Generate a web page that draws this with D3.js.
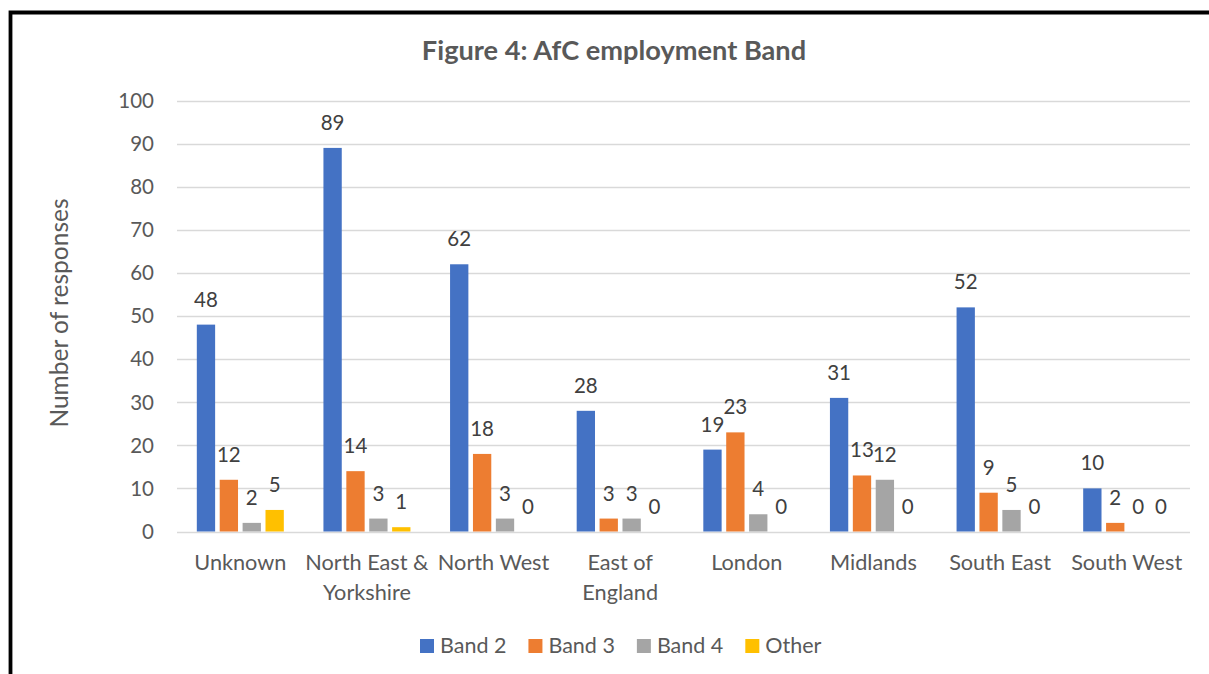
<!DOCTYPE html>
<html>
<head>
<meta charset="utf-8">
<script src="https://cdn.jsdelivr.net/npm/d3@7/dist/d3.min.js"></script>
<style>
  body { margin: 0; background: #fff; }
  svg { display: block; font-family: Lato, "Open Sans", sans-serif; }
</style>
</head>
<body>
<svg id="chart" width="1209" height="674"></svg>
<script>
// chart data
var categories = ["Unknown", "North East & Yorkshire", "North West", "East of England",
                  "London", "Midlands", "South East", "South West"];
var tickLines = [["Unknown"], ["North East &", "Yorkshire"], ["North West"], ["East of", "England"],
                 ["London"], ["Midlands"], ["South East"], ["South West"]];
var series = ["Band 2", "Band 3", "Band 4", "Other"];
var band2 = [48, 89, 62, 28, 19, 31, 52, 10];
var band3 = [12, 14, 18, 3, 23, 13, 9, 2];
var band4 = [2, 3, 3, 3, 4, 12, 5, 0];
var other = [5, 1, 0, 0, 0, 0, 0, 0];
var yTicks = [0, 10, 20, 30, 40, 50, 60, 70, 80, 90, 100];

var colors = ["#4472C4", "#ED7D31", "#A5A5A5", "#FFC000"];
var values = [band2, band3, band4, other];

var svg = d3.select("#chart");

// frame
svg.append("path")
    .attr("d", "M10.5,700 L10.5,12.5 L1230,12.5")
    .attr("fill", "none")
    .attr("stroke", "#000")
    .attr("stroke-width", 3.8);

var plotL = 177, plotR = 1190, plotT = 100.5, plotB = 531.5;

var x0 = d3.scaleBand().domain(categories).range([plotL, plotR]);
var groupW = 87;
var x1 = d3.scaleBand().domain(series)
    .range([(x0.bandwidth() - groupW) / 2, (x0.bandwidth() + groupW) / 2])
    .paddingInner(0.2);
var y = d3.scaleLinear().domain([0, 100]).range([plotB, plotT]);

// gridlines
svg.append("g").selectAll("line")
    .data(yTicks)
    .enter().append("line")
    .attr("x1", plotL).attr("x2", plotR)
    .attr("y1", function(d) { return Math.round(y(d)) + 0.5; })
    .attr("y2", function(d) { return Math.round(y(d)) + 0.5; })
    .attr("stroke", "#d9d9d9")
    .attr("stroke-width", 1.5);

// y tick labels
svg.append("g").selectAll("text")
    .data(yTicks)
    .enter().append("text")
    .attr("x", 154)
    .attr("y", function(d) { return y(d); })
    .attr("dy", "0.36em")
    .attr("text-anchor", "end")
    .attr("fill", "#595959")
    .style("font-size", "20.5px")
    .text(function(d) { return d; });

// bars
var rows = [];
series.forEach(function(s, i) {
    categories.forEach(function(c, j) {
        rows.push({ series: s, cat: c, value: values[i][j], color: colors[i] });
    });
});

var g = svg.append("g");
g.selectAll("rect")
    .data(rows)
    .enter().append("rect")
    .attr("x", function(d) { return x0(d.cat) + x1(d.series); })
    .attr("width", x1.bandwidth())
    .attr("y", function(d) { return y(d.value); })
    .attr("height", function(d) { return y(0) - y(d.value); })
    .attr("fill", function(d) { return d.color; });

g.selectAll("text")
    .data(rows)
    .enter().append("text")
    .attr("x", function(d) { return x0(d.cat) + x1(d.series) + x1.bandwidth() / 2; })
    .attr("y", function(d) { return y(d.value) - 18; })
    .attr("text-anchor", "middle")
    .attr("fill", "#404040")
    .style("font-size", "20.5px")
    .text(function(d) { return d.value; });

// category labels
var cat = svg.append("g").selectAll("text")
    .data(categories)
    .enter().append("text")
    .attr("text-anchor", "middle")
    .attr("fill", "#595959")
    .style("font-size", "21.7px");
cat.each(function(d, i) {
    var t = d3.select(this);
    tickLines[i].forEach(function(line, k) {
        t.append("tspan")
            .attr("x", x0(d) + x0.bandwidth() / 2)
            .attr("y", 570 + k * 29.5)
            .text(line);
    });
});

// axis title
svg.append("text")
    .attr("transform", "translate(68,313) rotate(-90)")
    .attr("text-anchor", "middle")
    .attr("fill", "#595959")
    .style("font-size", "24.5px")
    .text("Number of responses");

// chart title
svg.append("text")
    .attr("x", 614)
    .attr("y", 60)
    .attr("text-anchor", "middle")
    .attr("fill", "#595959")
    .style("font-size", "27.2px")
    .style("font-weight", "bold")
    .text("Figure 4: AfC employment Band");

// legend
var legend = svg.append("g").attr("transform", "translate(420,639)");
var lx = 0;
series.forEach(function(s, i) {
    var item = legend.append("g").attr("transform", "translate(" + lx + ",0)");
    item.append("rect").attr("width", 14).attr("height", 14).attr("fill", colors[i]);
    var t = item.append("text")
        .attr("x", 20).attr("y", 14)
        .attr("fill", "#595959")
        .style("font-size", "21.5px")
        .text(s);
    lx += 20 + t.node().getComputedTextLength() + 22;
});
</script>
</body>
</html>
